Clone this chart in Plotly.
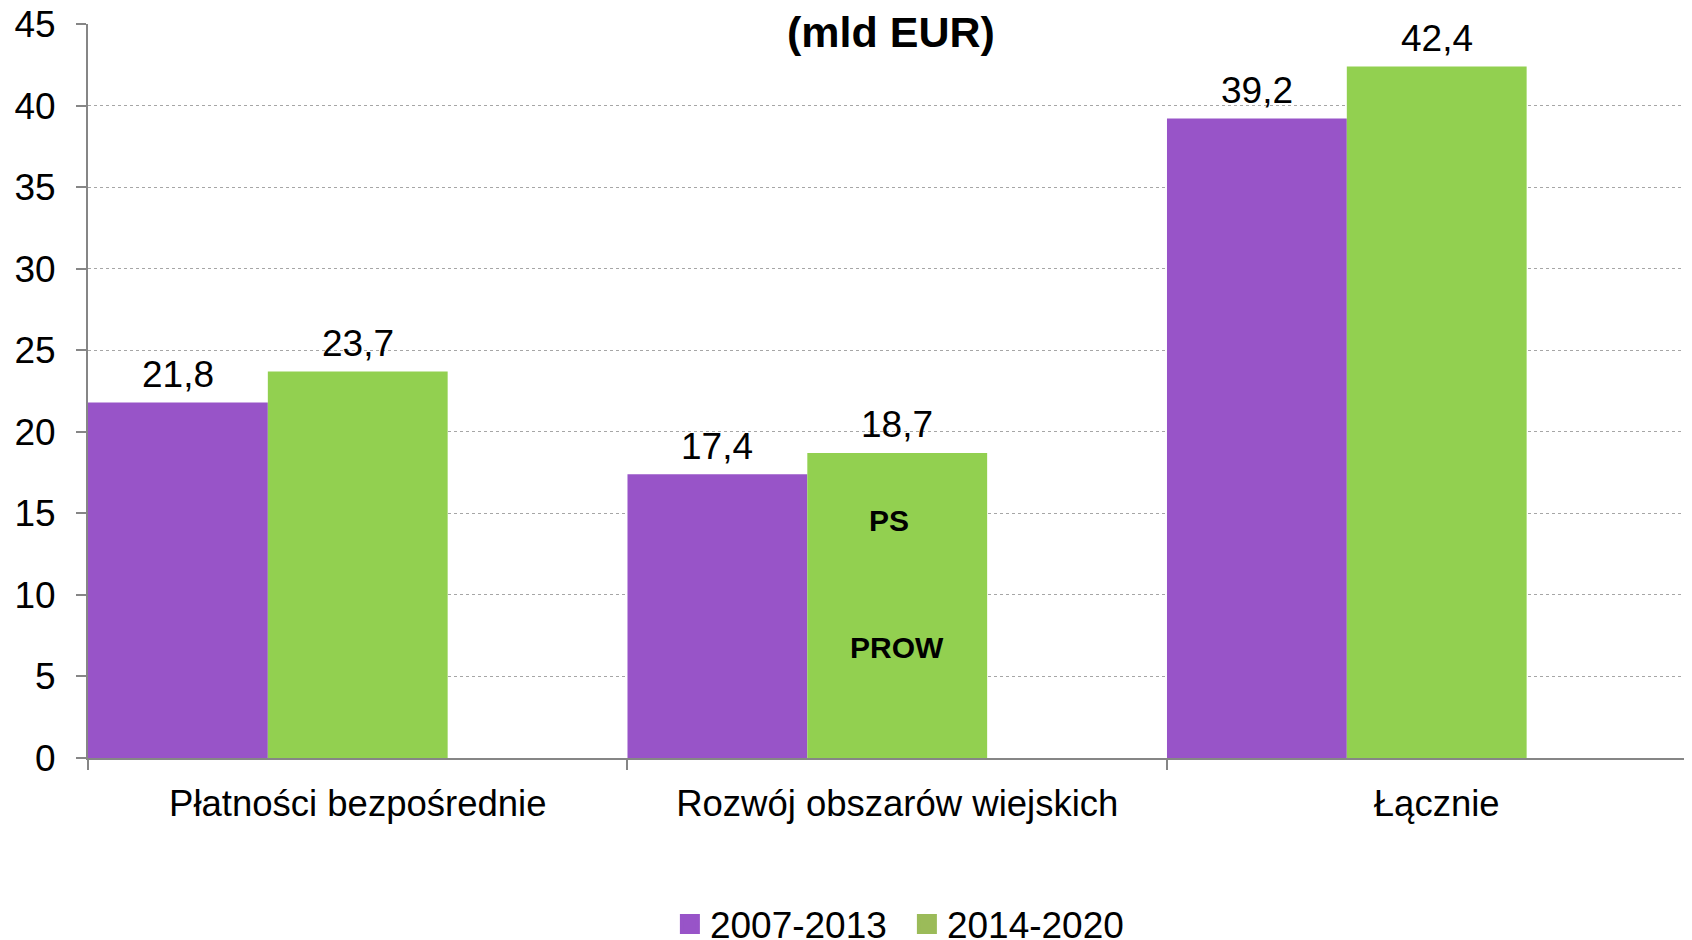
import plotly.graph_objects as go

categories = ["Płatności bezpośrednie", "Rozwój obszarów wiejskich", "Łącznie"]
series_names = ["2007-2013", "2014-2020"]
values_2007_2013 = [21.8, 17.4, 39.2]
values_2014_2020 = [23.7, 18.7, 42.4]
bar_colors = ["#9854C8", "#92D050"]
legend_colors = ["#9854C8", "#9BBB59"]
inner_labels = ["PS", "PROW"]
inner_label_x = [0.985, 1.0]
inner_label_y = [14.55, 6.75]
y_ticks = [0, 5, 10, 15, 20, 25, 30, 35, 40, 45]
title_text = "(mld EUR)"

FONT = "Liberation Sans, Arial, sans-serif"
BAR_W = 1 / 3
offsets = [-0.5, -1 / 6]

fig = go.Figure()
for name, vals, col, off in zip(series_names, [values_2007_2013, values_2014_2020], bar_colors, offsets):
    fig.add_trace(go.Bar(
        x=categories, y=vals, name=name,
        marker=dict(color=col, line=dict(width=0)),
        width=BAR_W, offset=off,
        showlegend=False,
    ))
    for i, v in enumerate(vals):
        fig.add_annotation(
            x=i + off + BAR_W / 2, y=v, xref="x", yref="y",
            text=("%.1f" % v).replace(".", ","), showarrow=False,
            yanchor="middle", yshift=28,
            font=dict(size=37, color="#000000", family=FONT),
        )

for name, col in zip(series_names, legend_colors):
    fig.add_trace(go.Scatter(
        x=[None], y=[None], mode="markers", name=name,
        marker=dict(symbol="square", size=16, color=col, line=dict(width=4, color=col)),
        showlegend=True,
    ))

for txt, xx, yy in zip(inner_labels, inner_label_x, inner_label_y):
    fig.add_annotation(x=xx, y=yy, xref="x", yref="y", text="<b>%s</b>" % txt,
                       showarrow=False, font=dict(size=30, color="#000000", family=FONT))

fig.add_annotation(x=0.4984, y=0.9888, xref="paper", yref="paper", text="<b>%s</b>" % title_text,
                   showarrow=False, yanchor="middle", xanchor="center",
                   font=dict(size=43, color="#000000", family=FONT))

fig.update_layout(
    width=1692, height=940,
    margin=dict(l=80, r=0, t=16.3, b=190.3, pad=0, autoexpand=False),
    paper_bgcolor="white", plot_bgcolor="white",
    separators=", ",
    barmode="overlay",
    font=dict(family=FONT, color="#000000", size=37),
    legend=dict(orientation="h", x=0.508, xanchor="center", y=-0.2268, yanchor="middle",
                font=dict(size=37, color="#000000", family=FONT), bgcolor="rgba(0,0,0,0)",
                entrywidth=192, itemclick=False),
)
fig.update_xaxes(
    type="category", range=[-0.5, 2.488],
    showline=True, linecolor="#868686", linewidth=2,
    ticks="outside", tickson="boundaries", ticklen=10, tickcolor="#868686", tickwidth=2,
    showgrid=False, ticklabelstandoff=12, automargin=False,
    tickfont=dict(size=36.5, color="#000000", family=FONT),
)
fig.update_yaxes(
    range=[0, 45], tickvals=y_ticks,
    showline=True, linecolor="#868686", linewidth=2,
    ticks="outside", ticklen=10, tickcolor="#868686", tickwidth=2,
    showgrid=True, gridcolor="#A6A6A6", griddash="dot", gridwidth=1,
    zeroline=False, ticklabelstandoff=13, automargin=False, ticklabeloverflow="allow",
    tickfont=dict(size=37, color="#000000", family=FONT),
)

fig.write_html("out.html", config={"displayModeBar": False})
